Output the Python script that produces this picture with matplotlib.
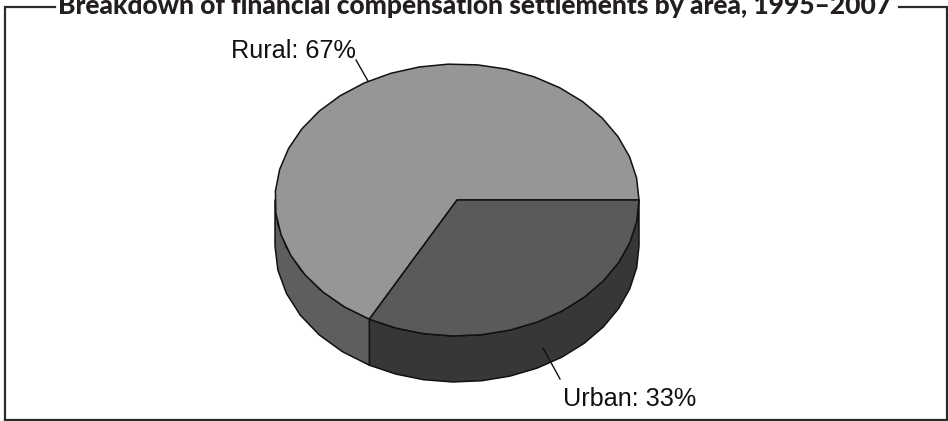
import numpy as np
import matplotlib.pyplot as plt

areas = ['Rural', 'Urban']
shares = [67, 33]
title = 'Breakdown of financial compensation settlements by area, 1995\u20132007'

W, H = 948, 421
cx, cy = 457, 200
rx, ry = 182, 136
depth = 46

def rim(a0, a1, step=9):
    # elliptical arc, angles in degrees measured clockwise on screen from 3 o'clock
    n = max(int(abs(a1 - a0) / step), 1) + 1
    t = np.radians(np.linspace(a0, a1, n))
    return cx + rx * np.cos(t), cy + ry * np.sin(t)

def wedge(a0, a1, color):
    x, y = rim(a0, a1)
    ax.fill(np.r_[cx, x], np.r_[cy, y], fc=color, ec='#111111', lw=1.1, joinstyle='round')

def wall(a0, a1, color):
    x, y = rim(a0, a1)
    ax.fill(np.r_[x, x[::-1]], np.r_[y, y[::-1] + depth], fc=color, ec='#111111', lw=1.1, joinstyle='round')

fig = plt.figure(figsize=(W / 100, H / 100), dpi=100)
ax = fig.add_axes([0, 0, 1, 1])
ax.set_xlim(0, W)
ax.set_ylim(H, 0)
ax.axis('off')

# urban wedge runs clockwise from 3 o'clock, rural takes the rest
split = 360 * shares[1] / sum(shares)

wall(0, split, '#373737')
wall(split, 180, '#5e5e5e')
wedge(split, 360, '#969696')
wedge(0, split, '#5a5a5a')

# leader lines and labels
ax.plot([356, 368], [60, 81], color='#111111', lw=1)
ax.plot([543, 560], [348, 379], color='#111111', lw=1)
ax.text(231, 58, f'{areas[0]}: {shares[0]}%', family='Liberation Sans', fontsize=18.2,
        color='#111111', ha='left', va='baseline')
ax.text(563, 406, f'{areas[1]}: {shares[1]}%', family='Liberation Sans', fontsize=18.2,
        color='#111111', ha='left', va='baseline')

# frame broken at the top for the heading
ax.plot([55, 5, 5], [6.5, 6.5, H], color='#2b2b2b', lw=1.6, solid_joinstyle='miter', clip_on=False)
ax.plot([899, 947, 947], [6.5, 6.5, H], color='#2b2b2b', lw=1.6, solid_joinstyle='miter', clip_on=False)
ax.plot([5, 947], [420, 420], color='#2b2b2b', lw=1.6)

ax.text(474.5, 14, title, family='Lato', weight=900, fontsize=19.0, color='#231f20',
        ha='center', va='baseline')

fig.savefig('out.png', dpi=100)
